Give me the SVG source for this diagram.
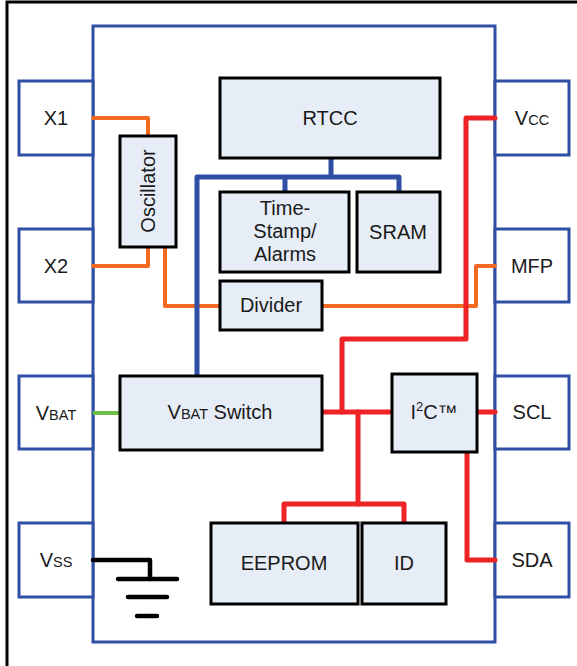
<svg xmlns="http://www.w3.org/2000/svg" width="577" height="666" viewBox="0 0 577 666">
<style>
.t{font-family:"Liberation Sans",Arial,sans-serif;font-size:20px;fill:#1a1a1a;text-anchor:middle}
.s{font-size:14.5px}
.pin{fill:#ffffff;stroke:#2E4FA3;stroke-width:3}
.blk{fill:#E7EDF6;stroke:#000;stroke-width:3}
.or{fill:none;stroke:#F26A22;stroke-width:4;stroke-linejoin:round;stroke-linecap:round}
.bl{fill:none;stroke:#2E4FA3;stroke-width:5;stroke-linejoin:round}
.rd{fill:none;stroke:#EE2326;stroke-width:5;stroke-linejoin:round;stroke-linecap:round}
.gr{fill:none;stroke:#6DBE45;stroke-width:4}
.gnd{fill:none;stroke:#000;stroke-width:4.5;stroke-linecap:round;stroke-linejoin:round}
</style>
<rect x="0" y="0" width="577" height="666" fill="#fff"/>
<path d="M7 666 V2 H577" fill="none" stroke="#000" stroke-width="3"/>
<g id="chip"><rect x="93" y="26" width="402" height="616" fill="none" stroke="#2E4FA3" stroke-width="3"/></g>
<g id="pin-x1"><rect class="pin" x="19" y="81" width="74" height="74"/><text class="t" x="56" y="125">X1</text></g>
<g id="pin-x2"><rect class="pin" x="19" y="229" width="74" height="73"/><text class="t" x="56" y="273">X2</text></g>
<g id="pin-vbat"><rect class="pin" x="19" y="376" width="74" height="73"/><text class="t" x="56" y="420">V<tspan class="s">BAT</tspan></text></g>
<g id="pin-vss"><rect class="pin" x="19" y="523" width="74" height="74"/><text class="t" x="56" y="567">V<tspan class="s">SS</tspan></text></g>
<g id="pin-vcc"><rect class="pin" x="495" y="81" width="74" height="74"/><text class="t" x="532" y="125">V<tspan class="s">CC</tspan></text></g>
<g id="pin-mfp"><rect class="pin" x="495" y="229" width="74" height="73"/><text class="t" x="532" y="273">MFP</text></g>
<g id="pin-scl"><rect class="pin" x="495" y="376" width="74" height="73"/><text class="t" x="532" y="419">SCL</text></g>
<g id="pin-sda"><rect class="pin" x="495" y="523" width="74" height="74"/><text class="t" x="532" y="567">SDA</text></g>
<g id="connectors">
<path class="or" d="M93 118 H148 V136"/>
<path class="or" d="M93 266 H148 V247"/>
<path class="or" d="M165 247 V306 H220"/>
<path class="or" d="M322 306 H476 V266 H495"/>
<path class="bl" d="M331 158 V177"/>
<path class="bl" d="M197 376 V177 H399 V192"/>
<path class="bl" d="M285 177 V192"/>
<path class="gr" d="M93 413 H119"/>
<path class="rd" d="M495 118 H466 V339 H342 V412"/>
<path class="rd" d="M322 412 H392"/>
<path class="rd" d="M358 412 V504"/>
<path class="rd" d="M284 523 V504 H404 V523"/>
<path class="rd" d="M477 412 H495"/>
<path class="rd" d="M467 452 V560 H495"/>
<path class="gnd" d="M93 560 H150 V579"/>
<path class="gnd" d="M118 579 H177 M128 597 H167 M137 616 H157"/>
</g>
<g id="rtcc"><rect class="blk" x="220" y="78" width="220" height="80"/><text class="t" x="330" y="125">RTCC</text></g>
<g id="timestamp"><rect class="blk" x="220" y="192" width="129" height="80"/><text class="t" x="285" y="215">Time-</text><text class="t" x="285" y="238">Stamp/</text><text class="t" x="285" y="261">Alarms</text></g>
<g id="sram"><rect class="blk" x="357" y="192" width="83" height="80"/><text class="t" x="398" y="239">SRAM</text></g>
<g id="divider"><rect class="blk" x="220" y="281" width="102" height="49"/><text class="t" x="271" y="312">Divider</text></g>
<g id="oscillator"><rect class="blk" x="120" y="136" width="56" height="111"/><text class="t" transform="translate(155 191) rotate(-90)" x="0" y="0">Oscillator</text></g>
<g id="vbat-switch"><rect class="blk" x="120" y="376" width="202" height="74"/><text class="t" x="220" y="419">V<tspan class="s">BAT</tspan> Switch</text></g>
<g id="i2c"><rect class="blk" x="392" y="374" width="85" height="78"/><text class="t" x="434" y="419">I<tspan font-size="13px" dy="-8">2</tspan><tspan dy="8">C™</tspan></text></g>
<g id="eeprom"><rect class="blk" x="211" y="523" width="147" height="81"/><text class="t" x="284" y="570">EEPROM</text></g>
<g id="id"><rect class="blk" x="362" y="523" width="84" height="81"/><text class="t" x="404" y="570">ID</text></g>
</svg>
